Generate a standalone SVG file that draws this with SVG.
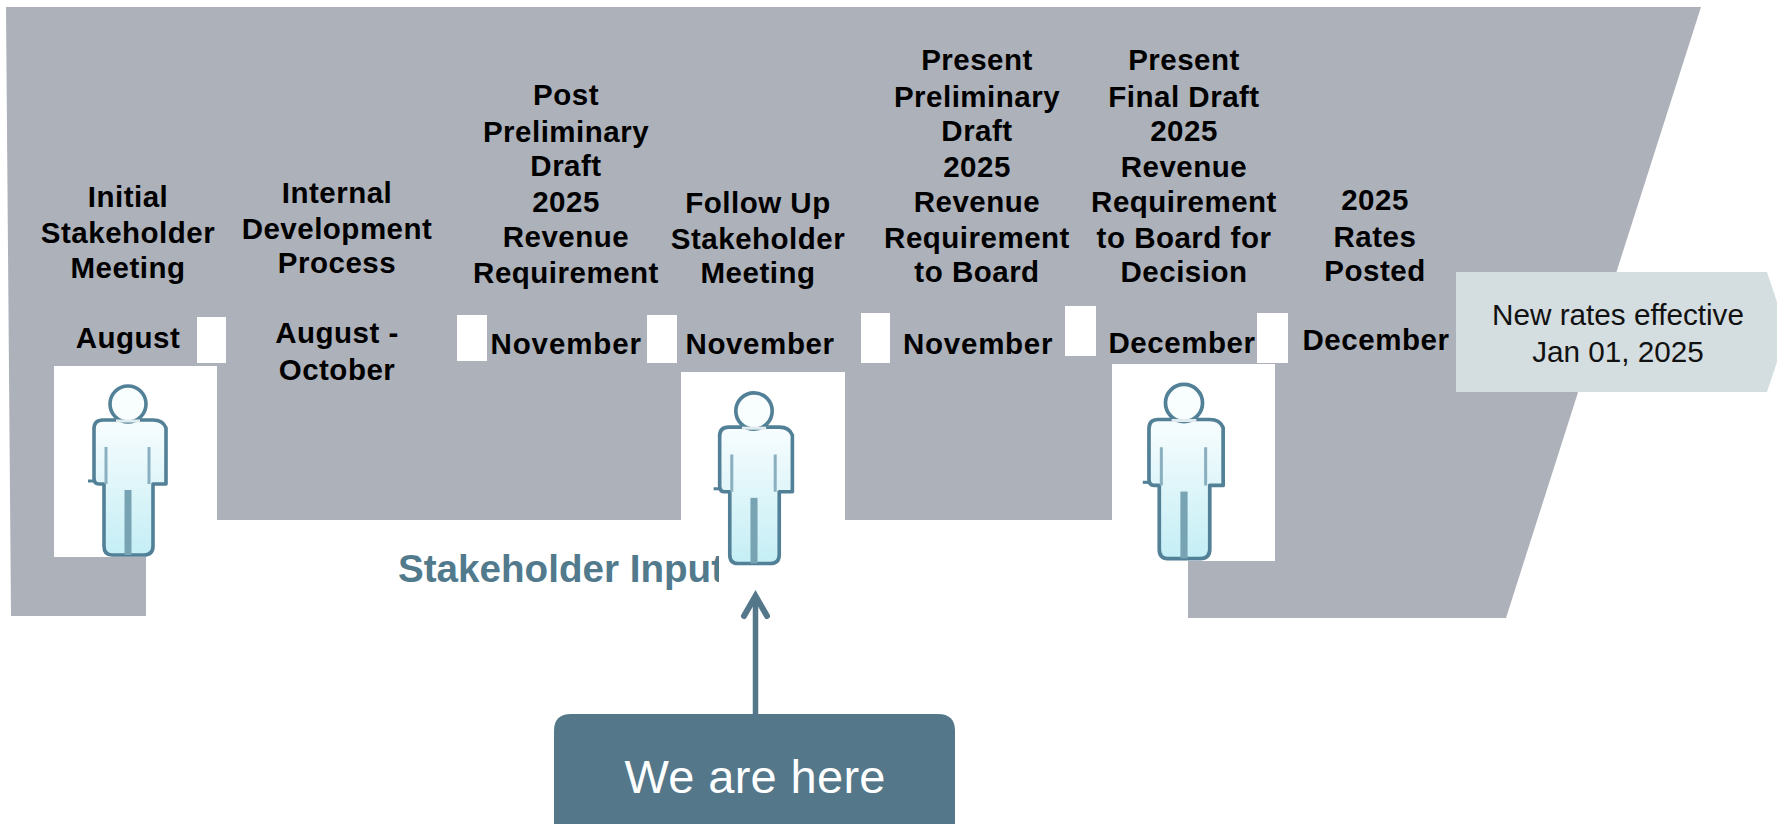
<svg xmlns="http://www.w3.org/2000/svg" width="1777" height="824" viewBox="0 0 1777 824">
<style>
text{font-family:"Liberation Sans",Arial,sans-serif;text-anchor:middle}
.l{font-size:29.5px;font-weight:bold;fill:#000;letter-spacing:.5px}
.w{fill:#fff}
</style>
<defs>
<linearGradient id="pg" x1="0" y1="0" x2="0" y2="1"><stop offset="0" stop-color="#f8fdfe"/><stop offset="1" stop-color="#c4eef5"/></linearGradient>
<clipPath id="sc"><rect x="390" y="540" width="329" height="60"/></clipPath>
<g id="person">
<path d="M-24 80H-29Q-34 80-34 74V25Q-34 16-25 16H25Q35 16 38 24V80H25V142Q25 151 16 151H-16Q-24 151-24 142Z" fill="url(#pg)" stroke="#528097" stroke-width="3.600" stroke-linejoin="round"/>
<circle cx="0" cy="0" r="18" fill="#f8fdfe" stroke="#528097" stroke-width="3.600"/>
<path d="M-12 17H12" stroke="#dfeaef" stroke-width="3" fill="none"/>
<path d="M-22 43V80M21 43V80" stroke="#8ab0bf" stroke-width="3" fill="none"/>
<path d="M0 86V151" stroke="#78a3b3" stroke-width="7" fill="none"/>
<path d="M-40 77H-34" stroke="#528097" stroke-width="3" fill="none"/>
</g>
</defs>
<rect width="1777" height="824" fill="#fff"/>
<path id="band" d="M6 7H1701L1506 618H1188V520H217V557H146V616H11Z" fill="#adb1b9"/>
<g id="white-patches" class="w">
<rect x="197" y="317" width="29" height="46"/>
<rect x="457" y="315" width="30" height="46"/>
<rect x="647" y="315" width="30" height="48"/>
<rect x="861" y="313" width="29" height="50"/>
<rect x="1065" y="306" width="31" height="50"/>
<rect x="1257" y="313" width="31" height="50"/>
</g>
<g id="stakeholder-input">
<text x="398" y="582" clip-path="url(#sc)" style="text-anchor:start" font-size="39" font-weight="bold" fill="#527a8d" textLength="326" lengthAdjust="spacingAndGlyphs">Stakeholder Input</text>
</g>
<g id="person-1"><rect class="w" x="54" y="366" width="163" height="191"/><use href="#person" x="128" y="404"/></g>
<g id="person-2"><rect class="w" x="681" y="372" width="164" height="148"/><use href="#person" transform="translate(754 411) scale(1.01)"/></g>
<g id="person-3"><rect class="w" x="1112" y="364" width="163" height="197"/><use href="#person" transform="translate(1184 403) scale(1.03)"/></g>
<g id="step-1" class="l"><text x="128" y="207">Initial</text><text x="128" y="243">Stakeholder</text><text x="128" y="278">Meeting</text><text x="128" y="348">August</text></g>
<g id="step-2" class="l"><text x="337" y="203">Internal</text><text x="337" y="239">Development</text><text x="337" y="273">Process</text><text x="337" y="343">August -</text><text x="337" y="380">October</text></g>
<g id="step-3" class="l"><text x="566" y="105">Post</text><text x="566" y="142">Preliminary</text><text x="566" y="176">Draft</text><text x="566" y="212">2025</text><text x="566" y="247">Revenue</text><text x="566" y="283">Requirement</text><text x="566" y="354" textLength="151">November</text></g>
<g id="step-4" class="l"><text x="758" y="213">Follow Up</text><text x="758" y="249">Stakeholder</text><text x="758" y="283">Meeting</text><text x="760" y="354" textLength="149">November</text></g>
<g id="step-5" class="l"><text x="977" y="70">Present</text><text x="977" y="107">Preliminary</text><text x="977" y="141">Draft</text><text x="977" y="177">2025</text><text x="977" y="212">Revenue</text><text x="977" y="248">Requirement</text><text x="977" y="282">to Board</text><text x="978" y="354" textLength="150">November</text></g>
<g id="step-6" class="l"><text x="1184" y="70">Present</text><text x="1184" y="107">Final Draft</text><text x="1184" y="141">2025</text><text x="1184" y="177">Revenue</text><text x="1184" y="212">Requirement</text><text x="1184" y="248">to Board for</text><text x="1184" y="282">Decision</text><text x="1182" y="353" textLength="147">December</text></g>
<g id="step-7" class="l"><text x="1375" y="210">2025</text><text x="1375" y="247">Rates</text><text x="1375" y="281">Posted</text><text x="1376" y="350" textLength="147">December</text></g>
<g id="new-rates"><path d="M1456 272H1767L1787 332L1767 392H1456Z" fill="#d4dddf"/><text x="1618" y="325" font-size="29.7" fill="#111">New rates effective</text><text x="1618" y="362" font-size="29.7" fill="#111">Jan 01, 2025</text></g>
<g id="connectors"><path d="M755.500 714V598" stroke="#54778a" stroke-width="5.500" fill="none"/><path d="M744 616L755.500 596L767 616" stroke="#54778a" stroke-width="6" fill="none" stroke-linecap="round"/></g>
<g id="we-are-here"><path d="M571 714H938Q955 714 955 731V824H554V731Q554 714 571 714Z" fill="#54778a"/><text x="755" y="793" font-size="47" fill="#fff" textLength="261">We are here</text></g>
</svg>
